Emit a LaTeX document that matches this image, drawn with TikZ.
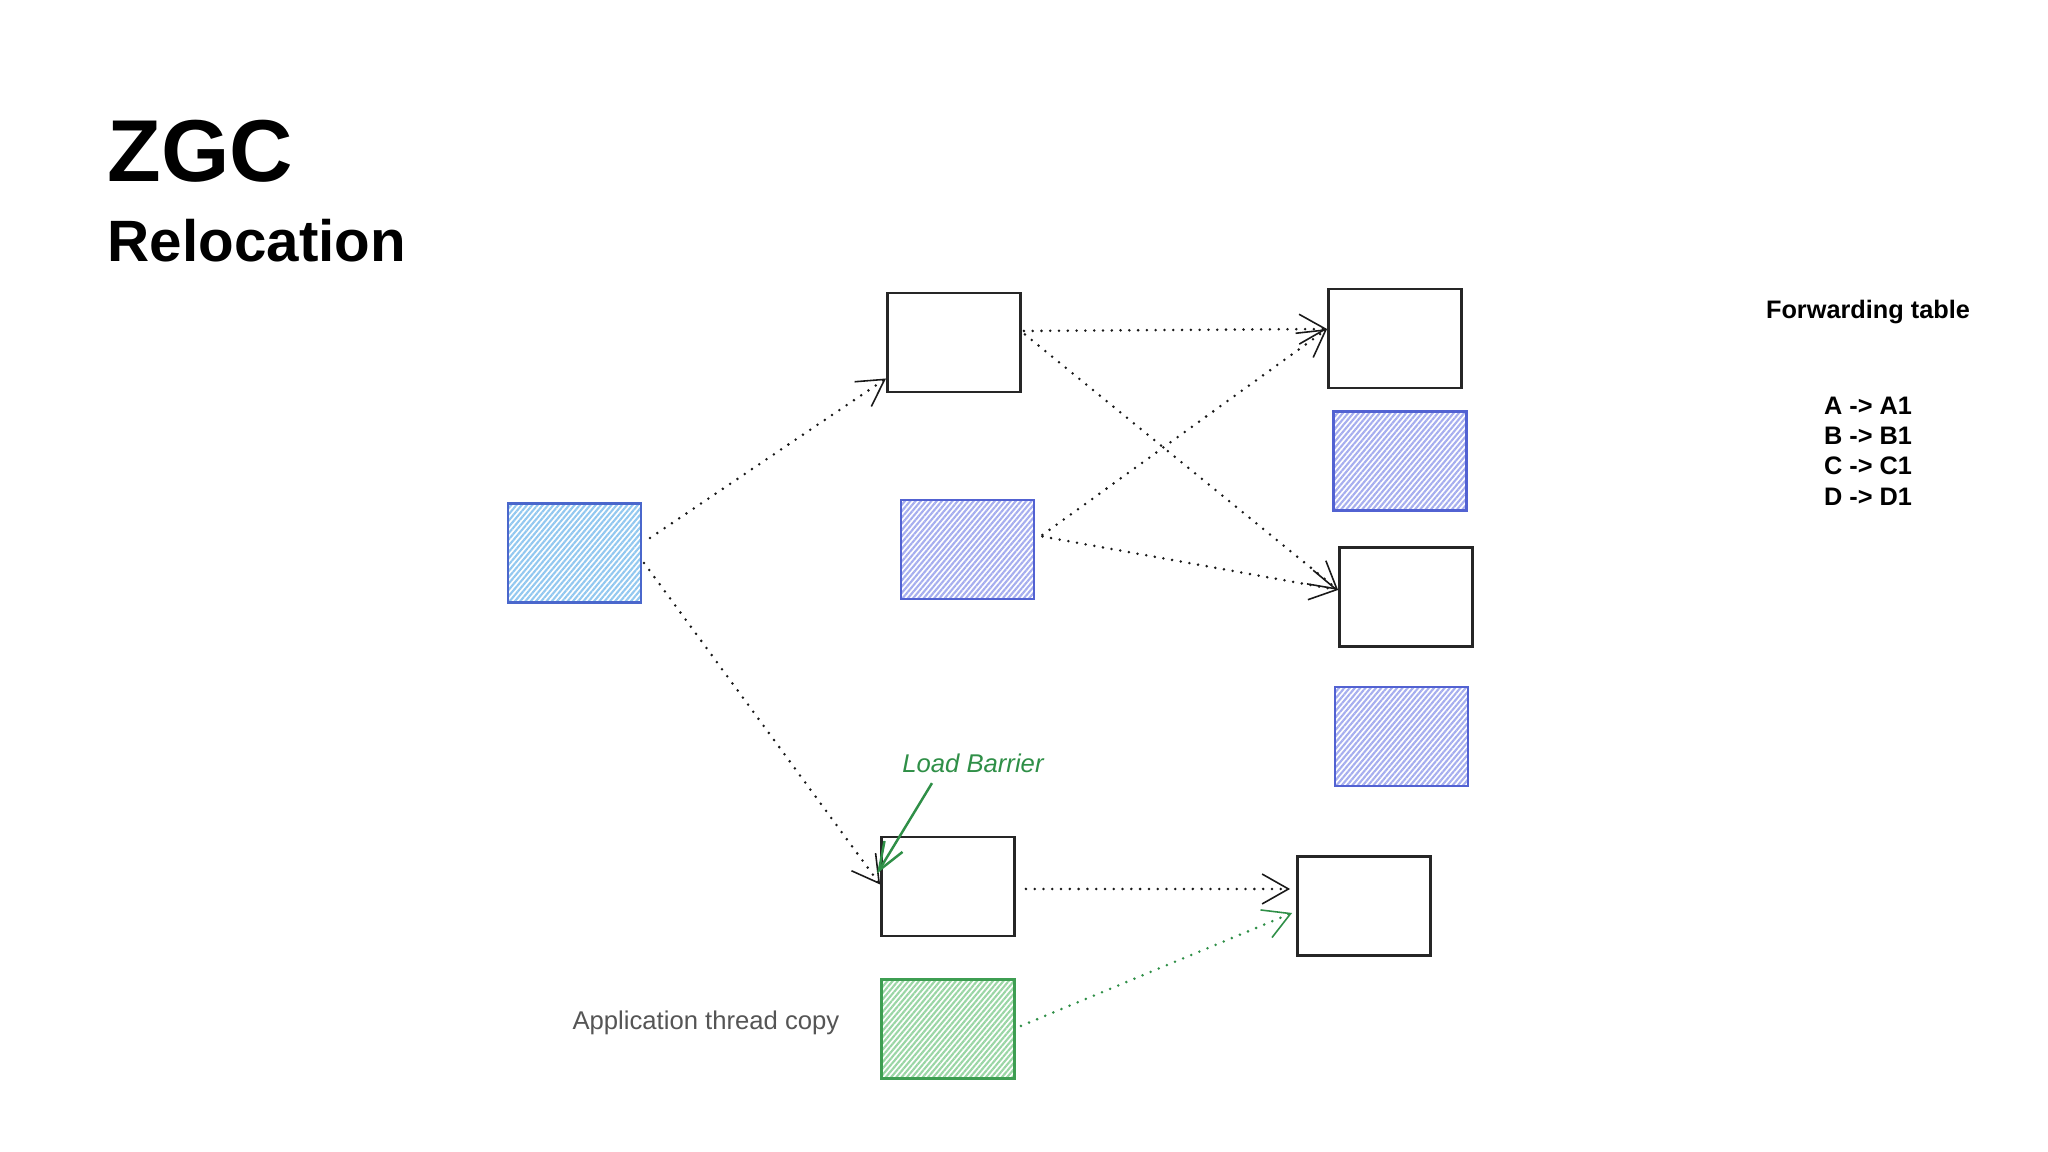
\documentclass[tikz,border=0pt]{standalone}
\usepackage{fontspec}
\setmainfont{Liberation Sans}
\usetikzlibrary{arrows.meta,patterns.meta}

\definecolor{srcline}{HTML}{4A67CC}
\definecolor{srchatch}{HTML}{92C8F0}
\definecolor{oldline}{HTML}{5262D2}
\definecolor{oldhatch}{HTML}{A6AEEF}
\definecolor{copyline}{HTML}{3E9E52}
\definecolor{copyhatch}{HTML}{9AD6A5}
\definecolor{barrier}{HTML}{2F8F47}
\definecolor{captiongray}{HTML}{555555}

\begin{document}
\begin{tikzpicture}[
  obj/.style={draw=black!85,line width=0.8pt,minimum width=1.33cm,minimum height=0.99cm,inner sep=0pt},
  hatch/.style 2 args={obj,draw=#1,pattern={Lines[angle=50,distance=1.15pt,line width=0.6pt]},pattern color=#2},
  ptr/.style={draw=black!90,line width=0.8pt,line cap=round,dash pattern=on 0pt off 2.5pt,
    -{Straight Barb[length=7.5pt,width=8.5pt,line width=0.45pt]}},
  txt/.style={inner sep=0pt}
]
\path[fill=white] (0,0) rectangle (20.48,11.52);
% title
\node[txt,anchor=base west,font=\bfseries\fontsize{25}{30}\selectfont] (title) at (1.07,9.70) {ZGC};
\node[txt,anchor=base west,font=\bfseries\fontsize{16.6}{20}\selectfont] (subtitle) at (1.07,8.90) {Relocation};
% objects
\node[hatch={srcline}{srchatch}] (src) at (5.745,5.99) {};
\node[obj] (old1) at (9.54,8.095) {};
\node[hatch={oldline}{oldhatch}] (old2) at (9.675,6.025) {};
\node[obj] (old3) at (9.48,2.655) {};
\node[hatch={copyline}{copyhatch}] (appcopy) at (9.48,1.23) {};
% relocated objects
\node[obj] (new1) at (13.95,8.135) {};
\node[hatch={oldline}{oldhatch}] (blk1) at (14.00,6.91) {};
\node[obj] (new2) at (14.06,5.55) {};
\node[hatch={oldline}{oldhatch}] (blk2) at (14.015,4.155) {};
\node[obj] (new3) at (13.64,2.46) {};
% references
\draw[ptr] ([shift={(0.08,0.15)}]src.east) -- ([yshift=-0.36cm]old1.west);
\draw[ptr] ([shift={(0.02,-0.10)}]src.east) -- ([yshift=0.02cm]old3.west);
\draw[ptr] ([shift={(0.02,0.115)}]old1.east) -- ([yshift=0.095cm]new1.west);
\draw[ptr] ([shift={(0.03,0.08)}]old1.east) -- ([yshift=0.07cm]new2.west);
\draw[ptr] ([shift={(0.07,0.145)}]old2.east) -- ([yshift=0.095cm]new1.west);
\draw[ptr] ([shift={(0.07,0.13)}]old2.east) -- ([yshift=0.07cm]new2.west);
\draw[ptr] ([shift={(0.10,-0.025)}]old3.east) -- ([shift={(-0.06,0.17)}]new3.west);
\draw[ptr,draw=barrier] ([shift={(0.05,0.03)}]appcopy.east) -- ([shift={(-0.04,-0.07)}]new3.west);
% load barrier
\node[txt,text=barrier,font=\itshape\fontsize{7.3}{9}\selectfont] (lb) at (9.73,3.89) {Load Barrier};
\draw[barrier,line width=0.7pt,-{Straight Barb[length=8pt,width=6pt]}]
  ([shift={(-0.41,-0.10)}]lb.south) -- ([shift={(-0.03,0.13)}]old3.west);
% caption
\node[txt,anchor=base east,text=captiongray,font=\fontsize{7.3}{9}\selectfont] (apptext) at (8.40,1.22) {Application thread copy};
% forwarding table
\node[txt,font=\bfseries\fontsize{7.2}{9}\selectfont] (fwdtitle) at (18.68,8.40) {Forwarding table};
\node[txt,align=center,font=\bfseries\fontsize{7.2}{8.6}\selectfont] (fwdrows) at (18.68,7.01)
  {A -> A1\\B -> B1\\C -> C1\\D -> D1};
\end{tikzpicture}
\end{document}
